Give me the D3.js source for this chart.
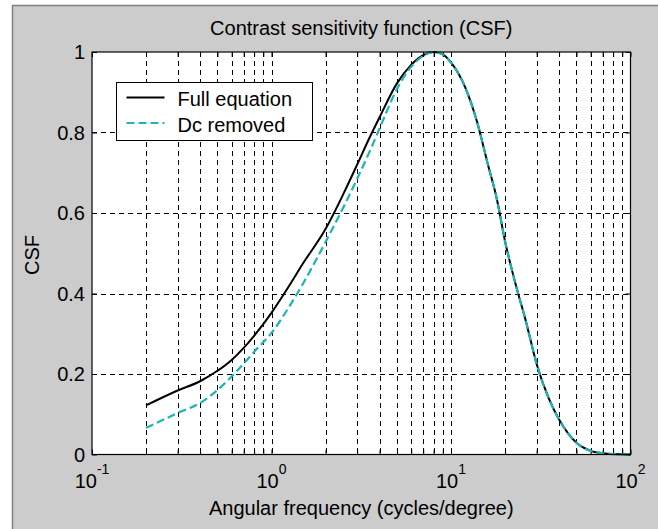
<!DOCTYPE html>
<html>
<head>
<meta charset="utf-8">
<script src="https://cdn.jsdelivr.net/npm/d3@7"></script>
<style>
    body { margin: 0; background: #fff; }
    text { font-family: "Liberation Sans", Arial, sans-serif; fill: #000; }
</style>
</head>
<body>
<div class="chart-container"></div>
<script>
// Values
const freqs = [0.2, 0.3, 0.4, 0.5, 0.6, 0.7, 0.8, 1, 1.25, 1.5, 2, 2.5, 3, 3.5, 4, 5, 6, 7, 8, 9,
    10, 12, 14, 16, 18, 20, 23, 26, 30, 35, 40, 45, 50, 60, 70, 80, 100];
const fullEquation = [0.122, 0.159, 0.182, 0.208, 0.235, 0.265, 0.295, 0.352, 0.418, 0.475, 0.56, 0.645, 0.72, 0.785, 0.838, 0.922, 0.968, 0.992, 1.0, 0.994,
    0.974, 0.912, 0.825, 0.723, 0.635, 0.53, 0.42, 0.335, 0.225, 0.14, 0.087, 0.052, 0.029, 0.009, 0.003, 0.001, 0.0];
const dcRemoved = [0.066, 0.103, 0.128, 0.16, 0.194, 0.226, 0.255, 0.302, 0.366, 0.425, 0.528, 0.612, 0.685, 0.75, 0.81, 0.908, 0.963, 0.99, 1.0, 0.994,
    0.974, 0.912, 0.825, 0.723, 0.635, 0.53, 0.42, 0.335, 0.225, 0.14, 0.087, 0.052, 0.029, 0.009, 0.003, 0.001, 0.0];
const xTickExps = [-1, 0, 1, 2];
const yTicks = [0, 0.2, 0.4, 0.6, 0.8, 1];
const yTickLabels = ['0', '0.2', '0.4', '0.6', '0.8', '1'];
const seriesNames = ['Full equation', 'Dc removed'];

const W = 658, H = 529;
const margin = { top: 52, right: 27.5, bottom: 74.5, left: 92 },
    width = W - margin.left - margin.right,
    height = H - margin.top - margin.bottom;

const root = d3.select('.chart-container')
    .append('svg')
    .attr('width', W)
    .attr('height', H);

// grey figure background
root.append('rect')
    .attr('x', 12.5).attr('y', 5.5)
    .attr('width', 700).attr('height', 600)
    .attr('fill', '#cccccc')
    .attr('stroke', '#808080')
    .attr('stroke-width', 1.5);

const svg = root.append('g')
    .attr('transform', `translate(${margin.left},${margin.top})`);

const x = d3.scaleLog().domain([0.1, 100]).range([0, width]);
const y = d3.scaleLinear().domain([0, 1]).range([height, 0]);

// plot area
svg.append('rect')
    .attr('width', width).attr('height', height)
    .attr('fill', '#fff');

// grid lines (major + minor on the log axis)
const xGrid = x.ticks().filter(v => v > 0.1 && v < 100);
svg.append('g')
    .selectAll('line')
    .data(xGrid)
    .enter()
    .append('line')
    .attr('x1', d => Math.round(x(d)) + 0.5)
    .attr('x2', d => Math.round(x(d)) + 0.5)
    .attr('y1', 0).attr('y2', height)
    .attr('stroke', '#000')
    .attr('stroke-dasharray', '5,4');

svg.append('g')
    .selectAll('line')
    .data(yTicks.filter(v => v > 0 && v < 1))
    .enter()
    .append('line')
    .attr('x1', 0).attr('x2', width)
    .attr('y1', d => Math.round(y(d)) + 0.5)
    .attr('y2', d => Math.round(y(d)) + 0.5)
    .attr('stroke', '#000')
    .attr('stroke-dasharray', '5,4');

// axes: ticks inside, on all four sides
const xMinor = x.ticks();
const bottomAxis = svg.append('g')
    .attr('transform', `translate(0,${height})`)
    .call(d3.axisBottom(x).tickValues(xMinor).tickSizeInner(-5).tickSizeOuter(0).tickFormat(''));
const topAxis = svg.append('g')
    .call(d3.axisTop(x).tickValues(xMinor).tickSizeInner(-5).tickSizeOuter(0).tickFormat(''));
const leftAxis = svg.append('g')
    .call(d3.axisLeft(y).tickValues(yTicks).tickSizeInner(-5).tickSizeOuter(0).tickFormat(''));
const rightAxis = svg.append('g')
    .attr('transform', `translate(${width},0)`)
    .call(d3.axisRight(y).tickValues(yTicks).tickSizeInner(-5).tickSizeOuter(0).tickFormat(''));
[bottomAxis, topAxis, leftAxis, rightAxis].forEach(a => {
    a.selectAll('.domain').remove();
    a.selectAll('line').attr('stroke', '#000');
});

// y tick labels
svg.append('g')
    .selectAll('text')
    .data(yTicks)
    .enter()
    .append('text')
    .attr('x', -7)
    .attr('y', d => y(d))
    .attr('dy', '0.35em')
    .attr('text-anchor', 'end')
    .style('font-size', '20px')
    .text((d, i) => yTickLabels[i]);

// x tick labels as 10 with exponent
const xl = svg.append('g')
    .selectAll('text')
    .data(xTickExps)
    .enter()
    .append('text')
    .attr('x', d => x(Math.pow(10, d)))
    .attr('y', height + 33.5)
    .attr('text-anchor', 'middle')
    .style('font-size', '20px');
xl.append('tspan').text('10');
xl.append('tspan')
    .attr('dy', -14)
    .style('font-size', '14px')
    .text(d => String(d));

// curves
const line = d3.line()
    .x(d => x(d[0]))
    .y(d => y(d[1]))
    .curve(d3.curveMonotoneX);

svg.append('path')
    .datum(freqs.map((f, i) => [f, fullEquation[i]]))
    .attr('fill', 'none')
    .attr('stroke', '#000')
    .attr('stroke-width', 2)
    .attr('d', line);

svg.append('path')
    .datum(freqs.map((f, i) => [f, dcRemoved[i]]))
    .attr('fill', 'none')
    .attr('stroke', '#1cb5b5')
    .attr('stroke-width', 2.2)
    .attr('stroke-dasharray', '8,4')
    .attr('d', line);

// plot frame
svg.append('rect')
    .attr('width', width).attr('height', height)
    .attr('fill', 'none')
    .attr('stroke', '#000')
    .attr('stroke-width', 1.2);

// legend
const legend = svg.append('g')
    .attr('transform', `translate(${116.5 - margin.left},${82.5 - margin.top})`);
legend.append('rect')
    .attr('width', 196).attr('height', 58)
    .attr('fill', '#fff')
    .attr('stroke', '#000');
const legendStyles = [
    { stroke: '#000', dash: null },
    { stroke: '#1cb5b5', dash: '8,4' }
];
seriesNames.forEach((name, i) => {
    const row = legend.append('g').attr('transform', `translate(0,${15 + i * 25.5})`);
    row.append('line')
        .attr('x1', 10).attr('x2', 48)
        .attr('y1', 0).attr('y2', 0)
        .attr('stroke', legendStyles[i].stroke)
        .attr('stroke-width', 2.2)
        .attr('stroke-dasharray', legendStyles[i].dash);
    row.append('text')
        .attr('x', 61)
        .attr('y', 8.5)
        .style('font-size', '20px')
        .text(name);
});

// title and axis labels
svg.append('text')
    .attr('x', width / 2)
    .attr('y', 35 - margin.top)
    .attr('text-anchor', 'middle')
    .style('font-size', '20px')
    .text('Contrast sensitivity function (CSF)');

svg.append('text')
    .attr('x', width / 2)
    .attr('y', 515 - margin.top)
    .attr('text-anchor', 'middle')
    .style('font-size', '20px')
    .text('Angular frequency (cycles/degree)');

svg.append('text')
    .attr('transform', `translate(${39 - margin.left},${255 - margin.top}) rotate(-90)`)
    .attr('text-anchor', 'middle')
    .style('font-size', '20px')
    .text('CSF');
</script>
</body>
</html>
